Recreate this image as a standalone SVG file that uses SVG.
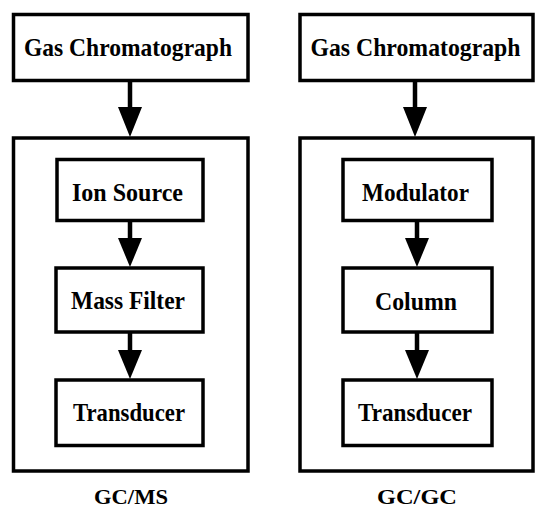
<svg xmlns="http://www.w3.org/2000/svg" width="535" height="508" viewBox="0 0 535 508">
<defs>
<style>
.box{fill:#fff;stroke:#000;stroke-width:3.5}
.frame{fill:none;stroke:#000;stroke-width:3.5}
.lbl{font-family:"Liberation Serif","Times New Roman",serif;font-weight:bold;font-size:25px;fill:#000;text-anchor:middle}
.cap{font-family:"Liberation Serif","Times New Roman",serif;font-weight:bold;font-size:22px;fill:#000;text-anchor:middle}
.shaft{stroke:#000;stroke-width:4.5;fill:none}
.head{fill:#000}
</style>
</defs>
<rect width="535" height="508" fill="#fff"/>
<g id="gcms-frame"><rect class="frame" x="13.5" y="138" width="234.5" height="333"/></g>
<g id="gcgc-frame"><rect class="frame" x="300" y="138" width="233" height="333"/></g>
<g id="gc-left"><rect class="box" x="13.5" y="14.5" width="234.5" height="66"/><text class="lbl" x="128" y="56" textLength="208" lengthAdjust="spacingAndGlyphs">Gas Chromatograph</text></g>
<g id="ion-source"><rect class="box" x="57" y="159.5" width="146" height="61"/><text class="lbl" x="127.5" y="201" textLength="111" lengthAdjust="spacingAndGlyphs">Ion Source</text></g>
<g id="mass-filter"><rect class="box" x="56" y="268" width="147" height="64"/><text class="lbl" x="128" y="309" textLength="114" lengthAdjust="spacingAndGlyphs">Mass Filter</text></g>
<g id="transducer-left"><rect class="box" x="56" y="380" width="147" height="65.5"/><text class="lbl" x="129" y="421" textLength="112" lengthAdjust="spacingAndGlyphs">Transducer</text></g>
<g id="gc-right"><rect class="box" x="300" y="14.5" width="233" height="66"/><text class="lbl" x="415.5" y="56" textLength="210" lengthAdjust="spacingAndGlyphs">Gas Chromatograph</text></g>
<g id="modulator"><rect class="box" x="343" y="159.5" width="149" height="61"/><text class="lbl" x="415.5" y="201" textLength="107" lengthAdjust="spacingAndGlyphs">Modulator</text></g>
<g id="column"><rect class="box" x="343" y="268" width="149" height="64"/><text class="lbl" x="416" y="310" textLength="82" lengthAdjust="spacingAndGlyphs">Column</text></g>
<g id="transducer-right"><rect class="box" x="343" y="380" width="149" height="65.5"/><text class="lbl" x="415" y="421" textLength="114" lengthAdjust="spacingAndGlyphs">Transducer</text></g>
<g id="label-gcms"><text class="cap" x="131" y="504" textLength="74" lengthAdjust="spacingAndGlyphs">GC/MS</text></g>
<g id="label-gcgc"><text class="cap" x="417" y="504" textLength="80" lengthAdjust="spacingAndGlyphs">GC/GC</text></g>
<g id="connectors">
<line class="shaft" x1="130" y1="82" x2="130" y2="110"/><polygon class="head" points="118,107 142,107 130,137"/>
<line class="shaft" x1="130" y1="222" x2="130" y2="240"/><polygon class="head" points="118,238 142,238 130,267"/>
<line class="shaft" x1="130" y1="333" x2="130" y2="352"/><polygon class="head" points="118,350 142,350 130,379"/>
<line class="shaft" x1="415" y1="82" x2="415" y2="110"/><polygon class="head" points="403,107 427,107 415,137"/>
<line class="shaft" x1="417" y1="222" x2="417" y2="240"/><polygon class="head" points="405,238 429,238 417,267"/>
<line class="shaft" x1="417" y1="333" x2="417" y2="352"/><polygon class="head" points="405,350 429,350 417,379"/>
</g>
</svg>
